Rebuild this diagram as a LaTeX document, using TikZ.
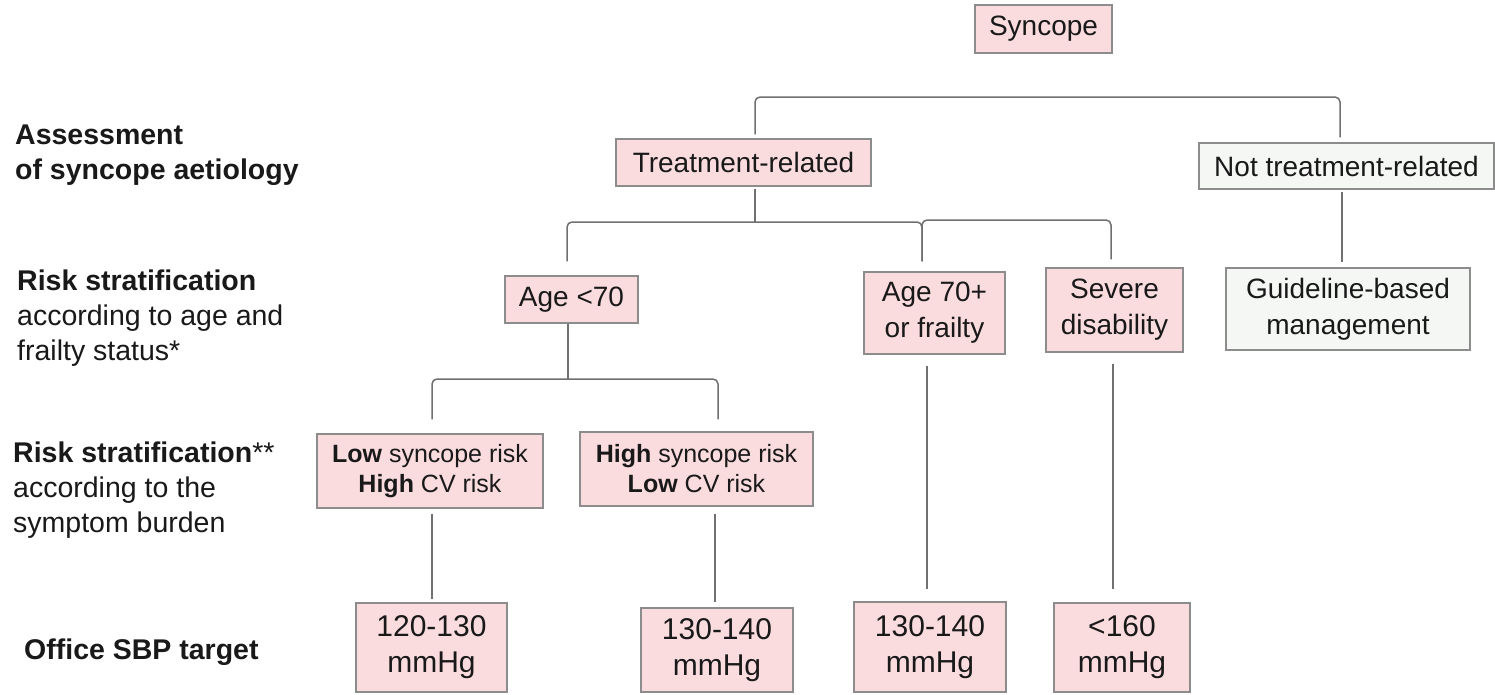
\documentclass[tikz,border=0pt]{standalone}
\usepackage{fontspec}
\setmainfont{Liberation Sans}
\usetikzlibrary{calc}
\definecolor{pinkfill}{RGB}{250,220,222}
\definecolor{greyfill}{RGB}{245,247,245}
\definecolor{boxline}{RGB}{140,140,140}
\definecolor{conline}{RGB}{112,112,112}
\definecolor{ink}{RGB}{25,25,25}
\begin{document}
\begin{tikzpicture}[x=1pt,y=-1pt,
  box/.style={draw=boxline, line width=1.3pt, fill=pinkfill, inner sep=0pt, align=center, text=ink, font=\fontsize{28}{36}\selectfont},
  pinkbox/.style={box},
  greybox/.style={box, fill=greyfill},
  smalltext/.style={font=\fontsize{25}{30}\selectfont},
  bigtext/.style={font=\fontsize{30}{36}\selectfont},
  rowlabel/.style={anchor=west, align=left, inner sep=0pt, text=ink, font=\fontsize{28.5}{35}\selectfont},
  conn/.style={draw=conline, line width=1.5pt, rounded corners=5pt}]
\useasboundingbox[fill=white] (0,0) rectangle (1495,694);

% row labels
\node[rowlabel] (l1) at (15,155) {\textbf{Assessment}\\\textbf{of syncope aetiology}};
\node[rowlabel] (l2) at (17,318) {\textbf{Risk stratification}\\according to age and\\frailty status*};
\node[rowlabel] (l3) at (13,490) {\textbf{Risk stratification}**\\according to the\\symptom burden};
\node[rowlabel] (l4) at (24,652) {\textbf{Office SBP target}};

% boxes
\node[pinkbox, minimum width=137pt, minimum height=48pt] (syn) at (1043.5,29) {Syncope};
\node[pinkbox, minimum width=255pt, minimum height=47pt] (treat) at (743.5,162.5) {Treatment-related};
\node[greybox, minimum width=295pt, minimum height=46pt] (nott) at (1346.5,166) {Not treatment-related};
\node[pinkbox, minimum width=133pt, minimum height=47pt] (agelt) at (571.5,299.5) {Age <70};
\node[pinkbox, minimum width=141pt, minimum height=82pt] (age70) at (934.5,313) {Age 70+\\or frailty};
\node[pinkbox, minimum width=137pt, minimum height=84pt] (sev) at (1114.5,310) {Severe\\disability};
\node[greybox, minimum width=244pt, minimum height=82pt] (guide) at (1348,309) {Guideline-based\\management};
\node[pinkbox, smalltext, minimum width=226pt, minimum height=74pt] (low) at (430,471) {\textbf{Low} syncope risk\\\textbf{High} CV risk};
\node[pinkbox, smalltext, minimum width=233pt, minimum height=74pt] (high) at (696.5,469) {\textbf{High} syncope risk\\\textbf{Low} CV risk};
\node[pinkbox, bigtext, minimum width=151pt, minimum height=89pt] (b1) at (431.5,647.5) {120-130\\mmHg};
\node[pinkbox, bigtext, minimum width=152pt, minimum height=84pt] (b2) at (717,650) {130-140\\mmHg};
\node[pinkbox, bigtext, minimum width=152pt, minimum height=90pt] (b3) at (930,647) {130-140\\mmHg};
\node[pinkbox, bigtext, minimum width=136pt, minimum height=89pt] (b4) at (1122,647.5) {<160\\mmHg};

% bus coordinates
\coordinate (busA) at (1046,97);
\coordinate (busB) at (700,222);
\coordinate (busC) at (1000,220);
\coordinate (busD) at (568,379);

% connectors
\draw[conn] ([shift={(11.5,-4)}]treat.north) |- (busA) -| ([shift={(-6.5,-5)}]nott.north);
\draw[conn] ([shift={(11.5,2)}]treat.south) -- ([shift={(11.5,36)}]treat.south);
\draw[conn] ([shift={(-4.5,-14)}]agelt.north) |- (busB) -| ([shift={(-12.5,-10)}]age70.north);
\draw[conn] ([shift={(-12.5,-10)}]age70.north) |- (busC) -| ([shift={(-3.5,-8)}]sev.north);
\draw[conn] ([shift={(-3.5,0)}]agelt.south) -- (busD);
\draw[conn] ([shift={(2,-14)}]low.north) |- (busD) -| ([shift={(21.5,-12)}]high.north);
\draw[conn] ([shift={(2,5)}]low.south) -- ([shift={(0.5,-3)}]b1.north);
\draw[conn] ([shift={(18.5,7)}]high.south) -- ([shift={(-2,-5)}]b2.north);
\draw[conn] ([shift={(-7.5,11)}]age70.south) -- ([shift={(-3,-12)}]b3.north);
\draw[conn] ([shift={(-1.5,11)}]sev.south) -- ([shift={(-9,-13)}]b4.north);
\draw[conn] ([shift={(-4.5,2)}]nott.south) -- ([shift={(-6,-5)}]guide.north);
\end{tikzpicture}
\end{document}
